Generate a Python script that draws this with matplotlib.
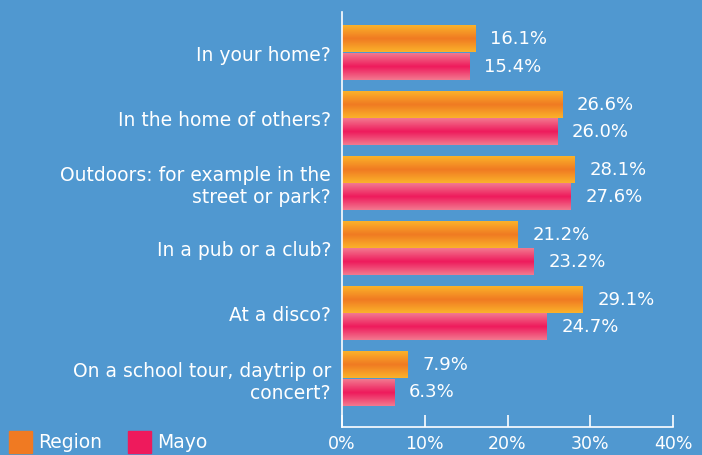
import numpy as np
import matplotlib
matplotlib.use("Agg")
import matplotlib.pyplot as plt
from matplotlib.colors import LinearSegmentedColormap
from matplotlib.patches import Rectangle

categories = ["In your home?", "In the home of others?",
              "Outdoors: for example in the\nstreet or park?", "In a pub or a club?",
              "At a disco?", "On a school tour, daytrip or\nconcert?"]
region = [16.1, 26.6, 28.1, 21.2, 29.1, 7.9]
mayo = [15.4, 26.0, 27.6, 23.2, 24.7, 6.3]
xticks = [0, 10, 20, 30, 40]

bg = "#5098d0"
plt.rcParams['font.family'] = ['DejaVu Sans']

fig = plt.figure(figsize=(7.02, 4.55), dpi=100, facecolor=bg)
ax = fig.add_axes([342 / 702, 28 / 455, 331 / 702, 415 / 455])
ax.set_facecolor(bg)

orange_cm = LinearSegmentedColormap.from_list("o", ["#fbb22a", "#f07a22", "#fbb22a"])
pink_cm = LinearSegmentedColormap.from_list("p", ["#f2798f", "#ee1a5c", "#f2798f"])
grad = np.linspace(0, 1, 64).reshape(-1, 1)

h = 0.4
y = np.arange(len(categories))
for i in range(len(categories)):
    for val, off, cm in [(region[i], -h / 2 - 0.01, orange_cm), (mayo[i], h / 2 + 0.01, pink_cm)]:
        yc = y[i] + off
        ax.imshow(grad, cmap=cm, extent=[0, val, yc + h / 2, yc - h / 2],
                  aspect='auto', interpolation='bilinear', zorder=2)
        ax.text(val + 1.8, yc, f"{val:.1f}%", va='center', ha='left',
                color='white', fontsize=13)

ax.set_xlim(0, 40)
ax.set_ylim(5.74, -0.63)
ax.set_yticks(y)
ax.set_yticklabels(categories, color='white', fontsize=13.5, ha='right')
ax.tick_params(axis='y', length=0, pad=8)
ax.set_xticks(xticks)
ax.set_xticklabels([f"{t}%" for t in xticks], color='white', fontsize=12.5)
ax.tick_params(axis='x', direction='in', length=9, color='white', width=1.2, pad=6)
for s in ['top', 'right']:
    ax.spines[s].set_visible(False)
for s in ['left', 'bottom']:
    ax.spines[s].set_color('white')
    ax.spines[s].set_linewidth(1.2)

# legend
fig.patches.append(Rectangle((9 / 702, 2 / 455), 23 / 702, 22 / 455,
                             transform=fig.transFigure, color="#f07a22", figure=fig))
fig.text(38 / 702, 12 / 455, "Region", color='white', fontsize=13.5, va='center')
fig.patches.append(Rectangle((128 / 702, 2 / 455), 23 / 702, 22 / 455,
                             transform=fig.transFigure, color="#ee1a5c", figure=fig))
fig.text(157 / 702, 12 / 455, "Mayo", color='white', fontsize=13.5, va='center')

fig.savefig("out.png", dpi=100, facecolor=bg)
